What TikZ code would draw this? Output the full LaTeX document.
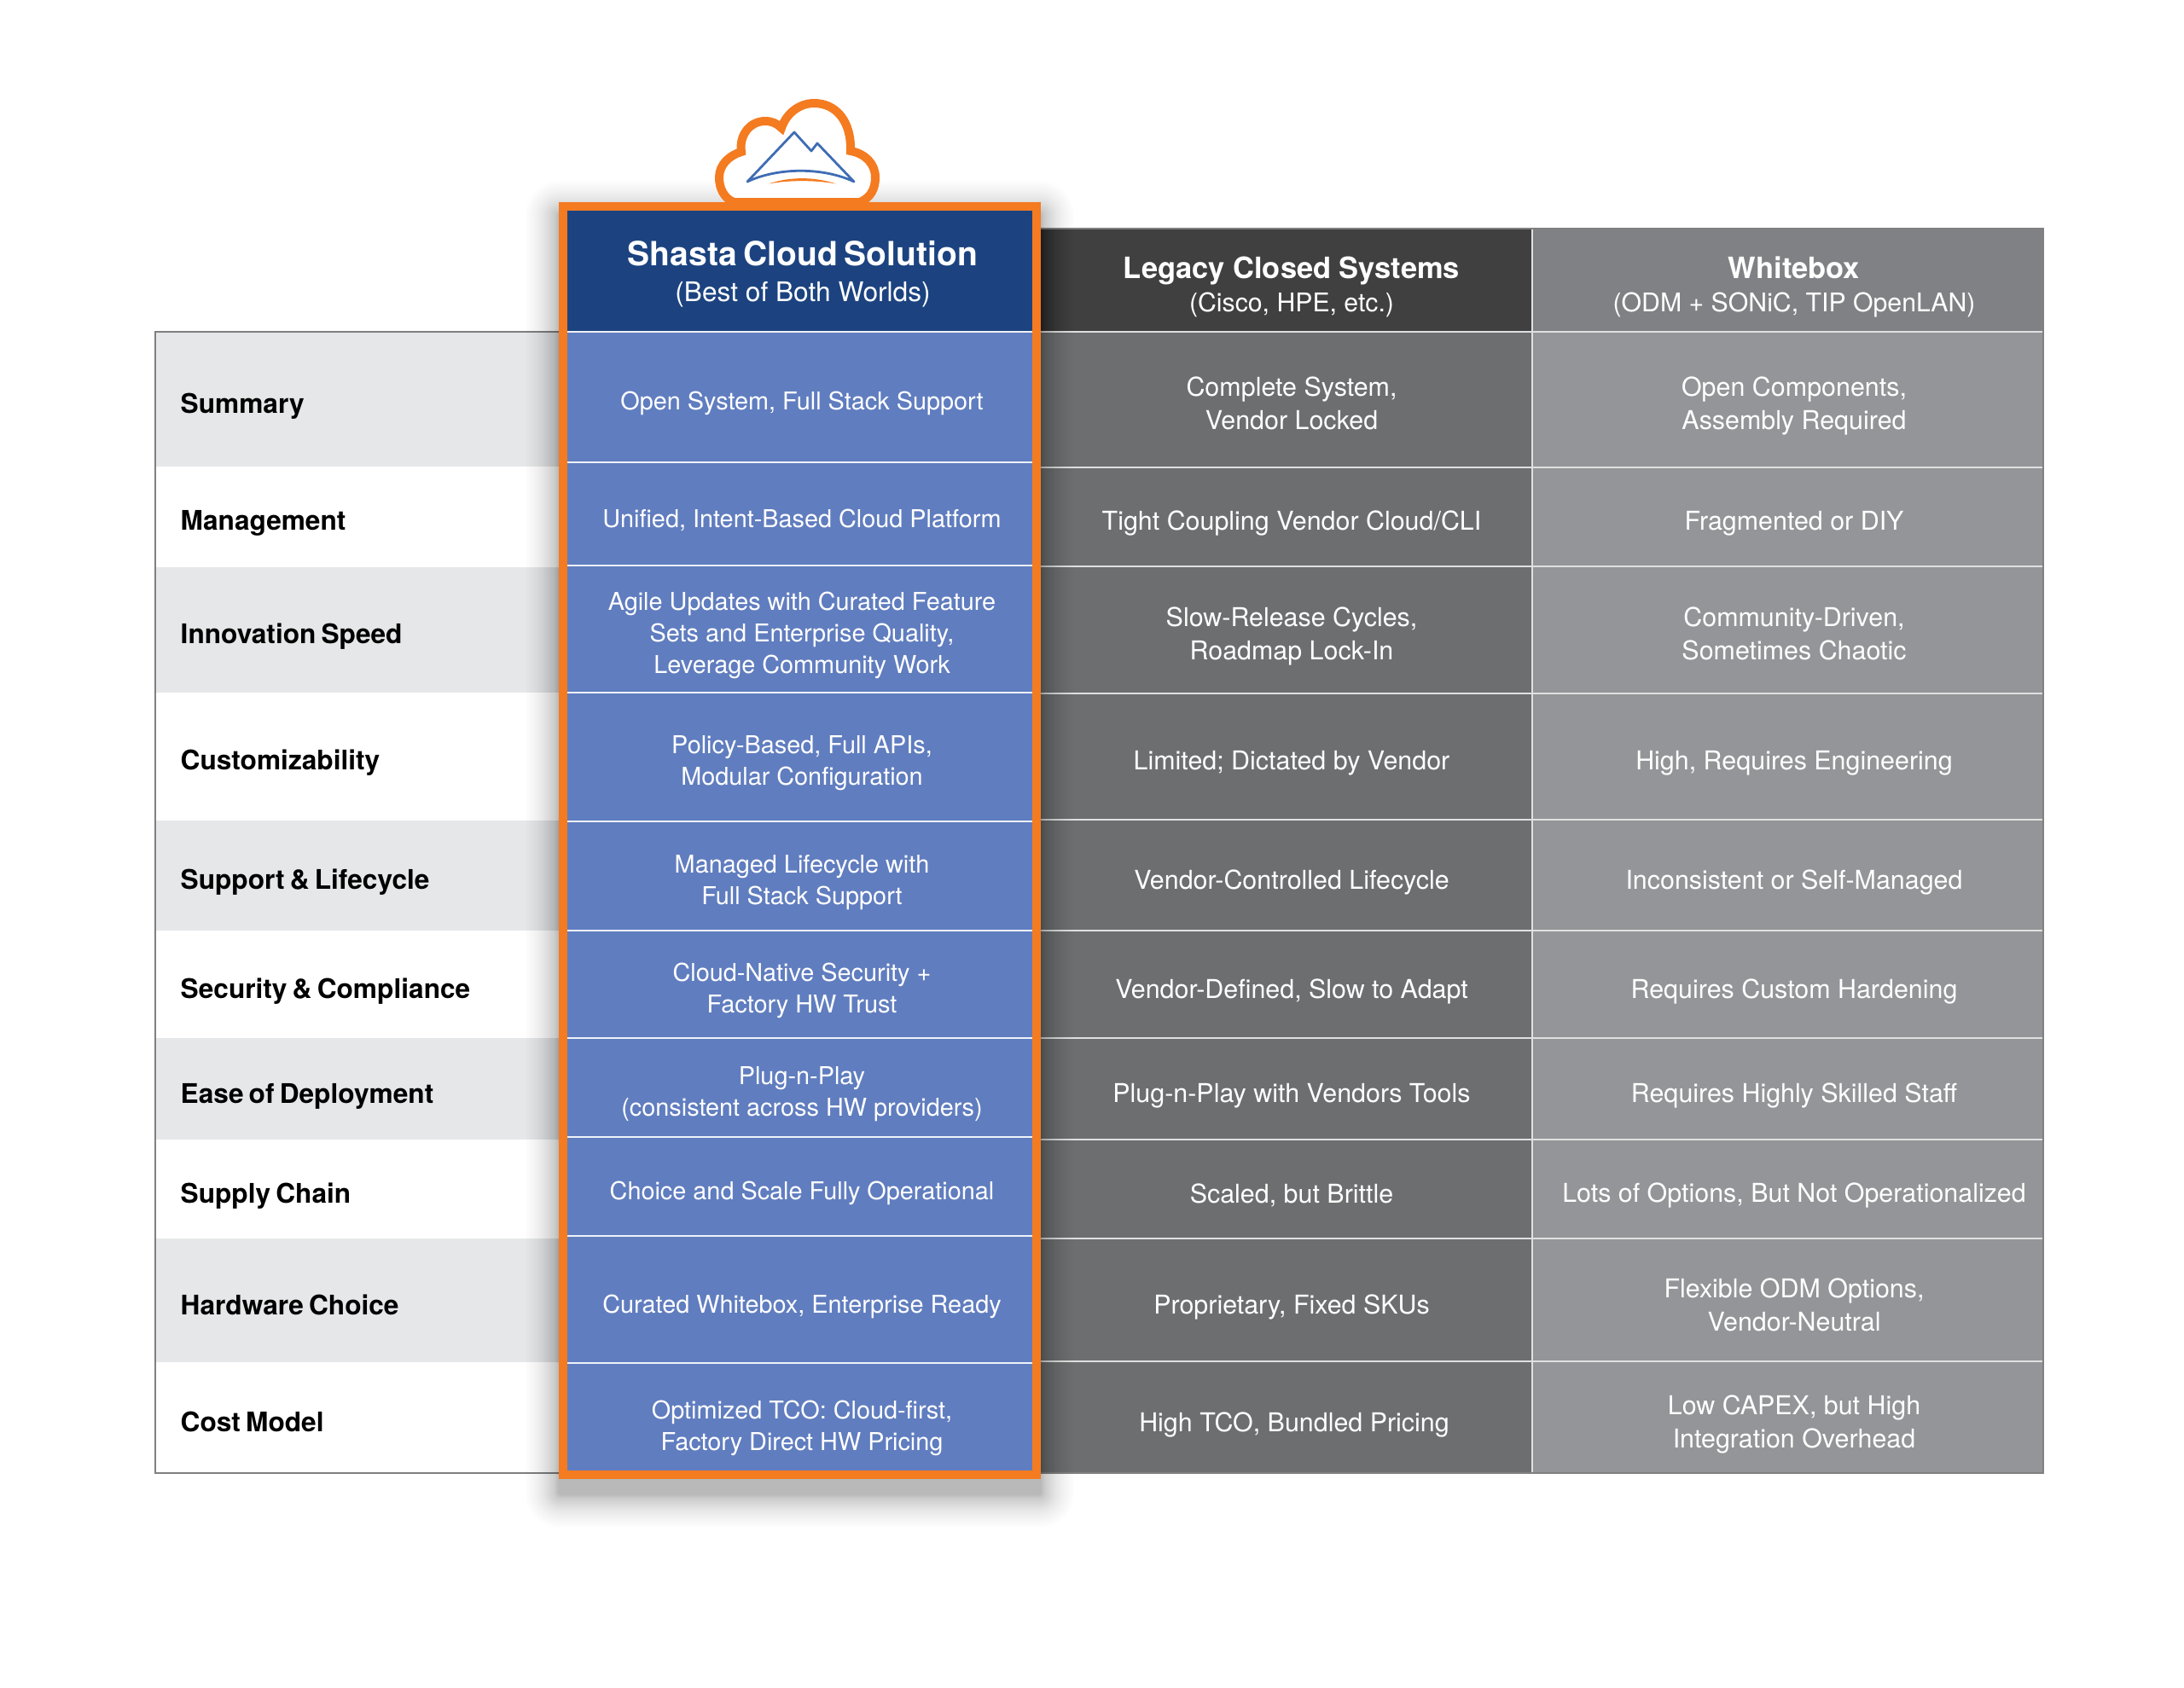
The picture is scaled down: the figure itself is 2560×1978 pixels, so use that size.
\documentclass[tikz,border=0pt]{standalone}
\usepackage{fontspec}
\setmainfont{TeX Gyre Heros}
\newfontfamily\tightfont[WordSpace=0.7]{TeX Gyre Heros}
\definecolor{shastaorange}{HTML}{F47B20}
\definecolor{shastadark}{HTML}{1C4380}
\definecolor{shastablue}{HTML}{607DBF}
\definecolor{legacydark}{HTML}{404041}
\definecolor{legacygrey}{HTML}{6D6E70}
\definecolor{whitedark}{HTML}{808184}
\definecolor{whitegrey}{HTML}{939598}
\definecolor{rowgrey}{HTML}{E6E7E8}
\definecolor{mtnblue}{HTML}{3F6DB5}
\tikzset{bluecell/.style={text=white, align=center, inner sep=0pt,
         font=\fontsize{8.2pt}{10.5pt}\selectfont},
         greycell/.style={text=white, align=center, inner sep=0pt,
         font=\fontsize{8.65pt}{10.95pt}\selectfont},
         rowlabel/.style={text=black, anchor=west, inner sep=0pt,
         font=\tightfont\fontsize{9pt}{11pt}\selectfont\bfseries},
         bluehead/.style={text=white, align=center, inner sep=0pt,
         font=\fontsize{9pt}{11.9pt}\selectfont},
         greyhead/.style={text=white, align=center, inner sep=0pt,
         font=\fontsize{8.6pt}{11.1pt}\selectfont},
         blueline/.style={color=white!90!shastablue, line width=0.02cm},
         greyline/.style={color=white!88!black, line width=0.018cm}}

\begin{document}
\begin{tikzpicture}[x=0.01cm, y=-0.01cm]
        \useasboundingbox (0,0) rectangle (2560,1978);

        % Left column
        \fill[rowgrey] (182,389) rectangle (655,547);
        \fill[rowgrey] (182,665) rectangle (655,812);
        \fill[rowgrey] (182,962) rectangle (655,1091);
        \fill[rowgrey] (182,1217) rectangle (655,1336);
        \fill[rowgrey] (182,1452) rectangle (655,1597);

        % Grey columns
        \fill[legacydark] (1220,268) rectangle (1796,389);
        \fill[whitedark] (1796,268) rectangle (2395,389);
        \fill[legacygrey] (1220,389) rectangle (1796,1727);
        \fill[whitegrey] (1796,389) rectangle (2395,1727);

        \draw[greyline] (1220,389) -- (2395,389);
        \draw[greyline] (1220,548) -- (2395,548);
        \draw[greyline] (1220,664) -- (2395,664);
        \draw[greyline] (1220,813) -- (2395,813);
        \draw[greyline] (1220,961) -- (2395,961);
        \draw[greyline] (1220,1091) -- (2395,1091);
        \draw[greyline] (1220,1217) -- (2395,1217);
        \draw[greyline] (1220,1336) -- (2395,1336);
        \draw[greyline] (1220,1452) -- (2395,1452);
        \draw[greyline] (1220,1596) -- (2395,1596);
        \draw[greyline] (1796,268) -- (1796,1727);

        % Outline
        \draw[color=black!50, line width=0.015cm] (655,389) -- (182,389) -- (182,1727) -- (2395,1727) -- (2395,268) -- (1220,268);

        % Shadow of the middle column
        \foreach \g in {0,0.25,0.5,0.75,1,1.5,2,2.5,3,3.5,4,4.5,5,6,7,8,9,10,11,12,13,14,15,16,17,18,19.5,21,22.5,24,25.5,27,29,31,33,35,37,39} {
            \fill[black, opacity=0.0095, rounded corners=(\g+2)*0.01cm] (655-\g,251-\g) rectangle (1220+\g,1752+\g);
        }

        % Cloud
        \draw[shastaorange, fill=white, line width=0.1cm] (860,237) .. controls (848,232) and (843,220) .. (843,208)
            .. controls (843,193) and (855,182) .. (869,178) .. controls (866,160) and (878,142) .. (897,142)
            .. controls (905,142) and (911,145) .. (916,150) .. controls (922,132) and (938,121) .. (954,121)
            .. controls (980,121) and (998,142) .. (997,177) .. controls (1014,180) and (1026,192) .. (1026,208)
            .. controls (1026,222) and (1020,232) .. (1008,237) -- cycle;
        \draw[mtnblue, line width=0.028cm, line join=round] (876,213) -- (931,155) -- (951,177) -- (958,168) -- (1001,213)
            .. controls (965,196) and (912,196) .. (876,213) -- cycle;
        \fill[shastaorange] (901,215.5) .. controls (925,207) and (955,207) .. (980,215.5)
            .. controls (955,211) and (925,211) .. (901,215.5) -- cycle;

        % Middle column
        \fill[shastadark] (660,242) rectangle (1215,389);
        \fill[shastablue] (660,389) rectangle (1215,1729);
        \draw[blueline] (664,389) -- (1210,389);
        \draw[blueline] (664,541.5) -- (1210,541.5);
        \draw[blueline] (664,663) -- (1210,663);
        \draw[blueline] (664,812) -- (1210,812);
        \draw[blueline] (664,962.5) -- (1210,962.5);
        \draw[blueline] (664,1091) -- (1210,1091);
        \draw[blueline] (664,1217) -- (1210,1217);
        \draw[blueline] (664,1333) -- (1210,1333);
        \draw[blueline] (664,1449) -- (1210,1449);
        \draw[blueline] (664,1598) -- (1210,1598);
        \draw[shastaorange, line width=0.1cm] (660,242) rectangle (1215,1729);

        % Headers
        \draw (941,321) node[bluehead] (shastaHead) {{\tightfont\fontsize{11.1pt}{11.9pt}\selectfont\bfseries Shasta Cloud Solution}\\(Best of Both Worlds)};
        \draw (1514,336) node[greyhead] (legacyHead) {{\fontsize{9.8pt}{11.1pt}\selectfont\bfseries Legacy Closed Systems}\\(Cisco, HPE, etc.)};
        \draw (2103,336) node[greyhead] (whiteHead) {{\fontsize{9.8pt}{11.1pt}\selectfont\bfseries Whitebox}\\(ODM + SONiC, TIP OpenLAN)};

        % Row labels
        \draw (211,476) node[rowlabel] (summaryLabel) {Summary};
        \draw (211,613) node[rowlabel] (managementLabel) {Management};
        \draw (211,746) node[rowlabel] (innovationLabel) {Innovation Speed};
        \draw (211,894) node[rowlabel] (customLabel) {Customizability};
        \draw (211,1034) node[rowlabel] (supportLabel) {Support \& Lifecycle};
        \draw (211,1162) node[rowlabel] (securityLabel) {Security \& Compliance};
        \draw (211,1285) node[rowlabel] (easeLabel) {Ease of Deployment};
        \draw (211,1402) node[rowlabel] (supplyLabel) {Supply Chain};
        \draw (211,1530) node[rowlabel] (hardwareLabel) {Hardware Choice};
        \draw (211,1667) node[rowlabel] (costLabel) {Cost Model};

        % Shasta cells
        \draw (940,473) node[bluecell] (shastaSummary) {Open System, Full Stack Support};
        \draw (940,610) node[bluecell] (shastaManagement) {Unified, Intent-Based Cloud Platform};
        \draw (940,745) node[bluecell] (shastaInnovation) {Agile Updates with Curated Feature\\Sets and Enterprise Quality,\\Leverage Community Work};
        \draw (940,895) node[bluecell] (shastaCustom) {Policy-Based, Full APIs,\\Modular Configuration};
        \draw (940,1035) node[bluecell] (shastaSupport) {Managed Lifecycle with\\Full Stack Support};
        \draw (940,1161) node[bluecell] (shastaSecurity) {Cloud-Native Security +\\Factory HW Trust};
        \draw (940,1283) node[bluecell] (shastaEase) {Plug-n-Play\\(consistent across HW providers)};
        \draw (940,1399) node[bluecell] (shastaSupply) {Choice and Scale Fully Operational};
        \draw (940,1532) node[bluecell] (shastaHardware) {Curated Whitebox, Enterprise Ready};
        \draw (940,1674) node[bluecell] (shastaCost) {Optimized TCO: Cloud-first,\\Factory Direct HW Pricing};

        % Legacy cells
        \draw (1514,473) node[greycell] (legacySummary) {Complete System,\\Vendor Locked};
        \draw (1514,613) node[greycell] (legacyManagement) {Tight Coupling Vendor Cloud/CLI};
        \draw (1514,746) node[greycell] (legacyInnovation) {Slow-Release Cycles,\\Roadmap Lock-In};
        \draw (1514,895) node[greycell] (legacyCustom) {Limited; Dictated by Vendor};
        \draw (1514,1034) node[greycell] (legacySupport) {Vendor-Controlled Lifecycle};
        \draw (1514,1162) node[greycell] (legacySecurity) {Vendor-Defined, Slow to Adapt};
        \draw (1514,1285) node[greycell] (legacyEase) {Plug-n-Play with Vendors Tools};
        \draw (1514,1401) node[greycell] (legacySupply) {Scaled, but Brittle};
        \draw (1514,1532) node[greycell] (legacyHardware) {Proprietary, Fixed SKUs};
        \draw (1517,1670) node[greycell] (legacyCost) {High TCO, Bundled Pricing};

        % Whitebox cells
        \draw (2103,476) node[greycell] (whiteSummary) {Open Components,\\Assembly Required};
        \draw (2103,614) node[greycell] (whiteManagement) {Fragmented or DIY};
        \draw (2103,743) node[greycell] (whiteInnovation) {Community-Driven,\\Sometimes Chaotic};
        \draw (2103,895) node[greycell] (whiteCustom) {High, Requires Engineering};
        \draw (2103,1034) node[greycell] (whiteSupport) {Inconsistent or Self-Managed};
        \draw (2103,1162) node[greycell] (whiteSecurity) {Requires Custom Hardening};
        \draw (2103,1284) node[greycell] (whiteEase) {Requires Highly Skilled Staff};
        \draw (2103,1401) node[greycell] (whiteSupply) {Lots of Options, But Not Operationalized};
        \draw (2103,1530) node[greycell] (whiteHardware) {Flexible ODM Options,\\Vendor-Neutral};
        \draw (2103,1670) node[greycell] (whiteCost) {Low CAPEX, but High\\Integration Overhead};
\end{tikzpicture}
\end{document}
